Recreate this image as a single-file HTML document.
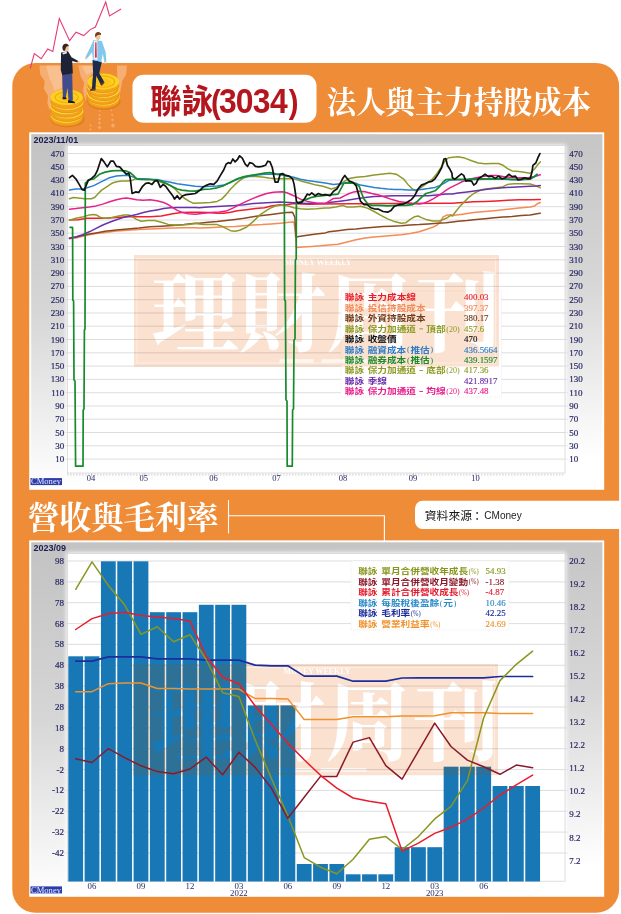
<!DOCTYPE html>
<html><head><meta charset="utf-8"><title>聯詠(3034) 法人與主力持股成本</title>
<style>html,body{margin:0;padding:0;background:#fff}body{width:621px;height:914px;overflow:hidden;font-family:"Liberation Sans",sans-serif}svg{display:block}text{white-space:pre}</style>
</head><body><svg width="621" height="914" viewBox="0 0 621 914"><defs>
<linearGradient id="pg1" gradientUnits="userSpaceOnUse" x1="30" y1="133" x2="50" y2="489"><stop offset="0" stop-color="#c2c2c2"/><stop offset="0.5" stop-color="#d6d6d6"/><stop offset="1" stop-color="#ffffff"/></linearGradient>
<linearGradient id="pg2" gradientUnits="userSpaceOnUse" x1="30" y1="541" x2="50" y2="897"><stop offset="0" stop-color="#c2c2c2"/><stop offset="0.5" stop-color="#d6d6d6"/><stop offset="1" stop-color="#ffffff"/></linearGradient>
<filter id="glow" x="-5%" y="-5%" width="110%" height="110%"><feGaussianBlur stdDeviation="2.2"/></filter>
</defs><rect x="12.3" y="63" width="606.8" height="849.7" rx="23" ry="23" fill="#ef8c37"/><polyline points="30.2,68.5 34.3,53.6 41.2,58.8 47.7,49 52.8,51.5 59.3,18.6 69.6,40.7 76,32.2 83.8,35.6 90.2,29.6 95.4,27 105.7,2 109.5,16 121.1,9" fill="none" stroke="#e83a74" stroke-width="1.1" stroke-linejoin="miter"/><g transform="translate(30 20) scale(0.16103)"><g fill="#f9c79c" opacity="0.6"><path d="M58 282H200V450L140 470 125 565 108 520 112 470 86 425 92 380 64 340Z"/><path d="M300 282H392V330L362 362 356 430 346 505 330 440 336 390 314 350Z"/><path d="M540 282H602L596 340 572 380 562 440 552 505 545 440Z"/></g><g fill="#fde0c0" opacity="0.35"><path d="M100 282H200V420L150 440 140 400 120 360Z"/><path d="M320 282H392V320L350 340Z"/></g><g fill="#fbd2ae" opacity="0.45"><path d="M432 558l7 7 l-7 7 l-7 -7 Z"/><path d="M432 582l8 8 l-8 8 l-8 -8 Z"/><path d="M432 606l9 9 l-9 9 l-9 -9 Z"/><path d="M432 630l10 10 l-10 10 l-10 -10 Z"/><path d="M432 656l12 12 l-12 12 l-12 -12 Z"/><path d="M376 648l7 7 l-7 7 l-7 -7 Z"/><path d="M376 672l8 8 l-8 8 l-8 -8 Z"/><path d="M505 553l7 7 l-7 7 l-7 -7 Z"/><path d="M510 582l8 8 l-8 8 l-8 -8 Z"/><path d="M512 611l9 9 l-9 9 l-9 -9 Z"/><path d="M515 641l14 14 l-14 14 l-14 -14 Z"/></g><ellipse cx="232" cy="616" rx="106" ry="52" fill="#d96f1c" opacity="0.55"/><path d="M128 588v22a100 48 0 0 0 200 0v-22Z" fill="#f2a31a"/><path d="M128 610a100 48 0 0 0 200 0" fill="none" stroke="#e08a12" stroke-width="4"/><ellipse cx="228" cy="588" rx="100" ry="48" fill="#fdd21e"/><path d="M132 590a96 46 0 0 0 192 0" fill="none" stroke="#fde45a" stroke-width="5"/><path d="M131 561v22a100 48 0 0 0 200 0v-22Z" fill="#f2a31a"/><path d="M131 583a100 48 0 0 0 200 0" fill="none" stroke="#e08a12" stroke-width="4"/><ellipse cx="231" cy="561" rx="100" ry="48" fill="#fdd21e"/><path d="M135 563a96 46 0 0 0 192 0" fill="none" stroke="#fde45a" stroke-width="5"/><path d="M125 534v22a100 48 0 0 0 200 0v-22Z" fill="#f2a31a"/><path d="M125 556a100 48 0 0 0 200 0" fill="none" stroke="#e08a12" stroke-width="4"/><ellipse cx="225" cy="534" rx="100" ry="48" fill="#fdd21e"/><path d="M129 536a96 46 0 0 0 192 0" fill="none" stroke="#fde45a" stroke-width="5"/><path d="M132 507v22a100 48 0 0 0 200 0v-22Z" fill="#f2a31a"/><path d="M132 529a100 48 0 0 0 200 0" fill="none" stroke="#e08a12" stroke-width="4"/><ellipse cx="232" cy="507" rx="100" ry="48" fill="#fdd21e"/><path d="M136 509a96 46 0 0 0 192 0" fill="none" stroke="#fde45a" stroke-width="5"/><path d="M128 480v22a100 48 0 0 0 200 0v-22Z" fill="#f2a31a"/><path d="M128 502a100 48 0 0 0 200 0" fill="none" stroke="#e08a12" stroke-width="4"/><ellipse cx="228" cy="480" rx="100" ry="48" fill="#fdd21e"/><ellipse cx="228" cy="480" rx="72" ry="33" fill="none" stroke="#f5b018" stroke-width="9"/><ellipse cx="228" cy="482" rx="52" ry="24" fill="#fbc41c"/><ellipse cx="459" cy="505" rx="104" ry="54" fill="#d96f1c" opacity="0.55"/><path d="M359 479v20a98 50 0 0 0 196 0v-20Z" fill="#f2a31a"/><path d="M359 499a98 50 0 0 0 196 0" fill="none" stroke="#e08a12" stroke-width="4"/><ellipse cx="457" cy="479" rx="98" ry="50" fill="#fdd21e"/><path d="M363 481a94 48 0 0 0 188 0" fill="none" stroke="#fde45a" stroke-width="5"/><path d="M355 455v20a98 50 0 0 0 196 0v-20Z" fill="#f2a31a"/><path d="M355 475a98 50 0 0 0 196 0" fill="none" stroke="#e08a12" stroke-width="4"/><ellipse cx="453" cy="455" rx="98" ry="50" fill="#fdd21e"/><path d="M359 457a94 48 0 0 0 188 0" fill="none" stroke="#fde45a" stroke-width="5"/><path d="M361 431v20a98 50 0 0 0 196 0v-20Z" fill="#f2a31a"/><path d="M361 451a98 50 0 0 0 196 0" fill="none" stroke="#e08a12" stroke-width="4"/><ellipse cx="459" cy="431" rx="98" ry="50" fill="#fdd21e"/><path d="M365 433a94 48 0 0 0 188 0" fill="none" stroke="#fde45a" stroke-width="5"/><path d="M353 407v20a98 50 0 0 0 196 0v-20Z" fill="#f2a31a"/><path d="M353 427a98 50 0 0 0 196 0" fill="none" stroke="#e08a12" stroke-width="4"/><ellipse cx="451" cy="407" rx="98" ry="50" fill="#fdd21e"/><path d="M357 409a94 48 0 0 0 188 0" fill="none" stroke="#fde45a" stroke-width="5"/><path d="M357 383v20a98 50 0 0 0 196 0v-20Z" fill="#f2a31a"/><path d="M357 403a98 50 0 0 0 196 0" fill="none" stroke="#e08a12" stroke-width="4"/><ellipse cx="455" cy="383" rx="98" ry="50" fill="#fdd21e"/><ellipse cx="455" cy="383" rx="70" ry="35" fill="none" stroke="#f5b018" stroke-width="9"/><ellipse cx="455" cy="385" rx="50" ry="25" fill="#fbc41c"/><path d="M200 335L262 332 266 500 240 506 233 420 223 482 204 486Z" fill="#414c8e"/><path d="M203 478l22 4 2 10-24 0Z" fill="#15151c"/><path d="M236 498l34 6 10 8-2 5-42-3Z" fill="#15151c"/><path d="M193 202L236 194 258 232 300 254 296 264 262 254 266 332 200 342 191 310Z" fill="#1d2236"/><path d="M200 203l28-6 2 10-24 8Z" fill="#f2f2f2"/><path d="M296 254l14 4-2 8-14-2Z" fill="#f0c4a4"/><ellipse cx="226" cy="176" rx="15" ry="19" fill="#f0c4a4"/><path d="M202 178c-4-22 10-32 24-30 12 2 16 10 14 16-8-2-16 2-18 10-2 8-4 14-8 18-8-2-11-6-12-14Z" fill="#3a2418"/><path d="M388 248L446 260 430 330 460 384 440 402 412 346 406 432 384 432 392 330Z" fill="#1c2a4c"/><path d="M374 428l32-2 2 10-34 6Z" fill="#6a3a22"/><path d="M436 396l22-14 6 8-20 20Z" fill="#6a3a22"/><path d="M394 124L446 130 470 200 474 258 462 262 452 210 442 262 390 246 386 200 356 238 344 232 380 158Z" fill="#82c8ec"/><path d="M398 128l20 2 0 118-22-4Z" fill="#f6f6f6"/><path d="M405 138l8 0 2 92-6 8-6-8Z" fill="#e0344a"/><path d="M342 230l12 4-4 12-10-4Z" fill="#f0c4a4"/><path d="M462 260l10 0 0 12-8 0Z" fill="#f0c4a4"/><ellipse cx="422" cy="106" rx="15" ry="19" fill="#f0c4a4"/><path d="M404 100c-2-18 12-28 26-24 10 2 14 10 10 18-8-4-18-2-24 2-4 4-6 8-8 12-2-2-4-4-4-8Z" fill="#7a3c1c"/></g><rect x="132.5" y="74.7" width="184" height="48" rx="11" fill="#fff"/><text x="150" y="113.3" font-family="Liberation Sans, Noto Sans CJK TC, sans-serif" font-weight="bold" font-size="33" fill="#b5161e" textLength="63" lengthAdjust="spacingAndGlyphs">聯詠</text><text transform="translate(215.8 112.9) scale(0.885 1)" x="0" y="0" text-anchor="middle" font-family="Liberation Sans, sans-serif" font-weight="bold" font-size="33" fill="#b5161e">(</text><text transform="translate(227.8 112.9) scale(0.885 1)" x="0" y="0" text-anchor="middle" font-family="Liberation Sans, sans-serif" font-weight="bold" font-size="36" fill="#b5161e">3</text><text transform="translate(244.6 112.9) scale(0.885 1)" x="0" y="0" text-anchor="middle" font-family="Liberation Sans, sans-serif" font-weight="bold" font-size="36" fill="#b5161e">0</text><text transform="translate(261.5 112.9) scale(0.885 1)" x="0" y="0" text-anchor="middle" font-family="Liberation Sans, sans-serif" font-weight="bold" font-size="36" fill="#b5161e">3</text><text transform="translate(278.8 112.9) scale(0.885 1)" x="0" y="0" text-anchor="middle" font-family="Liberation Sans, sans-serif" font-weight="bold" font-size="36" fill="#b5161e">4</text><text transform="translate(293.6 112.9) scale(0.885 1)" x="0" y="0" text-anchor="middle" font-family="Liberation Sans, sans-serif" font-weight="bold" font-size="33" fill="#b5161e">)</text><text x="326.8" y="112.5" font-family="Liberation Serif, Noto Serif CJK SC, serif" font-weight="bold" font-size="31" fill="#fff" textLength="264.3" lengthAdjust="spacingAndGlyphs">法人與主力持股成本</text><text x="27.8" y="529" font-family="Liberation Serif, Noto Serif CJK SC, serif" font-weight="bold" font-size="31.8" fill="#fff" textLength="190.8" lengthAdjust="spacingAndGlyphs">營收與毛利率</text><path d="M228.5 500V533.5M228.5 515.7H384.4V541.5" fill="none" stroke="#fff" stroke-width="1.1"/><path d="M422.5 500.7H622V529H422.5a7.5 7.5 0 0 1 -7.5 -7.5V508.2a7.5 7.5 0 0 1 7.5 -7.5Z" fill="#fff"/><text x="424.8" y="519.5" font-family="Liberation Sans, Noto Sans CJK TC, sans-serif" font-size="11.8" fill="#151515" textLength="47.2" lengthAdjust="spacingAndGlyphs">資料來源</text><text x="471.2" y="519.5" font-family="Liberation Sans, Noto Sans CJK TC, sans-serif" font-size="11.8" fill="#151515">：</text><text x="484.3" y="519.3" font-family="Liberation Sans, sans-serif" font-size="11.8" fill="#222" textLength="37.4" lengthAdjust="spacingAndGlyphs">CMoney</text><rect x="29.2" y="132.3" width="575" height="357.5" fill="#fff"/><rect x="31.2" y="134.2" width="571.2" height="353.8" fill="url(#pg1)"/><rect x="66.5" y="144.8" width="499.5" height="329.5" fill="#fff" filter="url(#glow)"/><rect x="67.4" y="145.6" width="497.6" height="327.4" fill="#fff" stroke="#d2d2d2" stroke-width="0.7"/><text x="33.6" y="143" font-family="Liberation Sans, sans-serif" font-weight="bold" font-size="9" fill="#1c1c52">2023/11/01</text><path d="M67.5 459.1H565" stroke="#d4d4d4" stroke-width="0.8"/><path d="M60 459.1H67.5M565 459.1H569" stroke="#d4d4d4" stroke-width="0.7" stroke-dasharray="1 1"/><text x="64.3" y="462.1" font-family="Liberation Serif, serif" font-size="9" fill="#2a2a66" stroke="#2a2a66" stroke-width="0.2" text-anchor="end">10</text><text x="569.3" y="462.1" font-family="Liberation Serif, serif" font-size="9" fill="#2a2a66" stroke="#2a2a66" stroke-width="0.2">10</text><path d="M67.5 445.8H565" stroke="#d4d4d4" stroke-width="0.8"/><path d="M60 445.8H67.5M565 445.8H569" stroke="#d4d4d4" stroke-width="0.7" stroke-dasharray="1 1"/><text x="64.3" y="448.8" font-family="Liberation Serif, serif" font-size="9" fill="#2a2a66" stroke="#2a2a66" stroke-width="0.2" text-anchor="end">30</text><text x="569.3" y="448.8" font-family="Liberation Serif, serif" font-size="9" fill="#2a2a66" stroke="#2a2a66" stroke-width="0.2">30</text><path d="M67.5 432.5H565" stroke="#d4d4d4" stroke-width="0.8"/><path d="M60 432.5H67.5M565 432.5H569" stroke="#d4d4d4" stroke-width="0.7" stroke-dasharray="1 1"/><text x="64.3" y="435.5" font-family="Liberation Serif, serif" font-size="9" fill="#2a2a66" stroke="#2a2a66" stroke-width="0.2" text-anchor="end">50</text><text x="569.3" y="435.5" font-family="Liberation Serif, serif" font-size="9" fill="#2a2a66" stroke="#2a2a66" stroke-width="0.2">50</text><path d="M67.5 419.2H565" stroke="#d4d4d4" stroke-width="0.8"/><path d="M60 419.2H67.5M565 419.2H569" stroke="#d4d4d4" stroke-width="0.7" stroke-dasharray="1 1"/><text x="64.3" y="422.2" font-family="Liberation Serif, serif" font-size="9" fill="#2a2a66" stroke="#2a2a66" stroke-width="0.2" text-anchor="end">70</text><text x="569.3" y="422.2" font-family="Liberation Serif, serif" font-size="9" fill="#2a2a66" stroke="#2a2a66" stroke-width="0.2">70</text><path d="M67.5 406.0H565" stroke="#d4d4d4" stroke-width="0.8"/><path d="M60 406.0H67.5M565 406.0H569" stroke="#d4d4d4" stroke-width="0.7" stroke-dasharray="1 1"/><text x="64.3" y="409.0" font-family="Liberation Serif, serif" font-size="9" fill="#2a2a66" stroke="#2a2a66" stroke-width="0.2" text-anchor="end">90</text><text x="569.3" y="409.0" font-family="Liberation Serif, serif" font-size="9" fill="#2a2a66" stroke="#2a2a66" stroke-width="0.2">90</text><path d="M67.5 392.7H565" stroke="#d4d4d4" stroke-width="0.8"/><path d="M60 392.7H67.5M565 392.7H569" stroke="#d4d4d4" stroke-width="0.7" stroke-dasharray="1 1"/><text x="64.3" y="395.7" font-family="Liberation Serif, serif" font-size="9" fill="#2a2a66" stroke="#2a2a66" stroke-width="0.2" text-anchor="end">110</text><text x="569.3" y="395.7" font-family="Liberation Serif, serif" font-size="9" fill="#2a2a66" stroke="#2a2a66" stroke-width="0.2">110</text><path d="M67.5 379.4H565" stroke="#d4d4d4" stroke-width="0.8"/><path d="M60 379.4H67.5M565 379.4H569" stroke="#d4d4d4" stroke-width="0.7" stroke-dasharray="1 1"/><text x="64.3" y="382.4" font-family="Liberation Serif, serif" font-size="9" fill="#2a2a66" stroke="#2a2a66" stroke-width="0.2" text-anchor="end">130</text><text x="569.3" y="382.4" font-family="Liberation Serif, serif" font-size="9" fill="#2a2a66" stroke="#2a2a66" stroke-width="0.2">130</text><path d="M67.5 366.1H565" stroke="#d4d4d4" stroke-width="0.8"/><path d="M60 366.1H67.5M565 366.1H569" stroke="#d4d4d4" stroke-width="0.7" stroke-dasharray="1 1"/><text x="64.3" y="369.1" font-family="Liberation Serif, serif" font-size="9" fill="#2a2a66" stroke="#2a2a66" stroke-width="0.2" text-anchor="end">150</text><text x="569.3" y="369.1" font-family="Liberation Serif, serif" font-size="9" fill="#2a2a66" stroke="#2a2a66" stroke-width="0.2">150</text><path d="M67.5 352.8H565" stroke="#d4d4d4" stroke-width="0.8"/><path d="M60 352.8H67.5M565 352.8H569" stroke="#d4d4d4" stroke-width="0.7" stroke-dasharray="1 1"/><text x="64.3" y="355.8" font-family="Liberation Serif, serif" font-size="9" fill="#2a2a66" stroke="#2a2a66" stroke-width="0.2" text-anchor="end">170</text><text x="569.3" y="355.8" font-family="Liberation Serif, serif" font-size="9" fill="#2a2a66" stroke="#2a2a66" stroke-width="0.2">170</text><path d="M67.5 339.5H565" stroke="#d4d4d4" stroke-width="0.8"/><path d="M60 339.5H67.5M565 339.5H569" stroke="#d4d4d4" stroke-width="0.7" stroke-dasharray="1 1"/><text x="64.3" y="342.5" font-family="Liberation Serif, serif" font-size="9" fill="#2a2a66" stroke="#2a2a66" stroke-width="0.2" text-anchor="end">190</text><text x="569.3" y="342.5" font-family="Liberation Serif, serif" font-size="9" fill="#2a2a66" stroke="#2a2a66" stroke-width="0.2">190</text><path d="M67.5 326.2H565" stroke="#d4d4d4" stroke-width="0.8"/><path d="M60 326.2H67.5M565 326.2H569" stroke="#d4d4d4" stroke-width="0.7" stroke-dasharray="1 1"/><text x="64.3" y="329.2" font-family="Liberation Serif, serif" font-size="9" fill="#2a2a66" stroke="#2a2a66" stroke-width="0.2" text-anchor="end">210</text><text x="569.3" y="329.2" font-family="Liberation Serif, serif" font-size="9" fill="#2a2a66" stroke="#2a2a66" stroke-width="0.2">210</text><path d="M67.5 313.0H565" stroke="#d4d4d4" stroke-width="0.8"/><path d="M60 313.0H67.5M565 313.0H569" stroke="#d4d4d4" stroke-width="0.7" stroke-dasharray="1 1"/><text x="64.3" y="316.0" font-family="Liberation Serif, serif" font-size="9" fill="#2a2a66" stroke="#2a2a66" stroke-width="0.2" text-anchor="end">230</text><text x="569.3" y="316.0" font-family="Liberation Serif, serif" font-size="9" fill="#2a2a66" stroke="#2a2a66" stroke-width="0.2">230</text><path d="M67.5 299.7H565" stroke="#d4d4d4" stroke-width="0.8"/><path d="M60 299.7H67.5M565 299.7H569" stroke="#d4d4d4" stroke-width="0.7" stroke-dasharray="1 1"/><text x="64.3" y="302.7" font-family="Liberation Serif, serif" font-size="9" fill="#2a2a66" stroke="#2a2a66" stroke-width="0.2" text-anchor="end">250</text><text x="569.3" y="302.7" font-family="Liberation Serif, serif" font-size="9" fill="#2a2a66" stroke="#2a2a66" stroke-width="0.2">250</text><path d="M67.5 286.4H565" stroke="#d4d4d4" stroke-width="0.8"/><path d="M60 286.4H67.5M565 286.4H569" stroke="#d4d4d4" stroke-width="0.7" stroke-dasharray="1 1"/><text x="64.3" y="289.4" font-family="Liberation Serif, serif" font-size="9" fill="#2a2a66" stroke="#2a2a66" stroke-width="0.2" text-anchor="end">270</text><text x="569.3" y="289.4" font-family="Liberation Serif, serif" font-size="9" fill="#2a2a66" stroke="#2a2a66" stroke-width="0.2">270</text><path d="M67.5 273.1H565" stroke="#d4d4d4" stroke-width="0.8"/><path d="M60 273.1H67.5M565 273.1H569" stroke="#d4d4d4" stroke-width="0.7" stroke-dasharray="1 1"/><text x="64.3" y="276.1" font-family="Liberation Serif, serif" font-size="9" fill="#2a2a66" stroke="#2a2a66" stroke-width="0.2" text-anchor="end">290</text><text x="569.3" y="276.1" font-family="Liberation Serif, serif" font-size="9" fill="#2a2a66" stroke="#2a2a66" stroke-width="0.2">290</text><path d="M67.5 259.8H565" stroke="#d4d4d4" stroke-width="0.8"/><path d="M60 259.8H67.5M565 259.8H569" stroke="#d4d4d4" stroke-width="0.7" stroke-dasharray="1 1"/><text x="64.3" y="262.8" font-family="Liberation Serif, serif" font-size="9" fill="#2a2a66" stroke="#2a2a66" stroke-width="0.2" text-anchor="end">310</text><text x="569.3" y="262.8" font-family="Liberation Serif, serif" font-size="9" fill="#2a2a66" stroke="#2a2a66" stroke-width="0.2">310</text><path d="M67.5 246.5H565" stroke="#d4d4d4" stroke-width="0.8"/><path d="M60 246.5H67.5M565 246.5H569" stroke="#d4d4d4" stroke-width="0.7" stroke-dasharray="1 1"/><text x="64.3" y="249.5" font-family="Liberation Serif, serif" font-size="9" fill="#2a2a66" stroke="#2a2a66" stroke-width="0.2" text-anchor="end">330</text><text x="569.3" y="249.5" font-family="Liberation Serif, serif" font-size="9" fill="#2a2a66" stroke="#2a2a66" stroke-width="0.2">330</text><path d="M67.5 233.2H565" stroke="#d4d4d4" stroke-width="0.8"/><path d="M60 233.2H67.5M565 233.2H569" stroke="#d4d4d4" stroke-width="0.7" stroke-dasharray="1 1"/><text x="64.3" y="236.2" font-family="Liberation Serif, serif" font-size="9" fill="#2a2a66" stroke="#2a2a66" stroke-width="0.2" text-anchor="end">350</text><text x="569.3" y="236.2" font-family="Liberation Serif, serif" font-size="9" fill="#2a2a66" stroke="#2a2a66" stroke-width="0.2">350</text><path d="M67.5 220.0H565" stroke="#d4d4d4" stroke-width="0.8"/><path d="M60 220.0H67.5M565 220.0H569" stroke="#d4d4d4" stroke-width="0.7" stroke-dasharray="1 1"/><text x="64.3" y="223.0" font-family="Liberation Serif, serif" font-size="9" fill="#2a2a66" stroke="#2a2a66" stroke-width="0.2" text-anchor="end">370</text><text x="569.3" y="223.0" font-family="Liberation Serif, serif" font-size="9" fill="#2a2a66" stroke="#2a2a66" stroke-width="0.2">370</text><path d="M67.5 206.7H565" stroke="#d4d4d4" stroke-width="0.8"/><path d="M60 206.7H67.5M565 206.7H569" stroke="#d4d4d4" stroke-width="0.7" stroke-dasharray="1 1"/><text x="64.3" y="209.7" font-family="Liberation Serif, serif" font-size="9" fill="#2a2a66" stroke="#2a2a66" stroke-width="0.2" text-anchor="end">390</text><text x="569.3" y="209.7" font-family="Liberation Serif, serif" font-size="9" fill="#2a2a66" stroke="#2a2a66" stroke-width="0.2">390</text><path d="M67.5 193.4H565" stroke="#d4d4d4" stroke-width="0.8"/><path d="M60 193.4H67.5M565 193.4H569" stroke="#d4d4d4" stroke-width="0.7" stroke-dasharray="1 1"/><text x="64.3" y="196.4" font-family="Liberation Serif, serif" font-size="9" fill="#2a2a66" stroke="#2a2a66" stroke-width="0.2" text-anchor="end">410</text><text x="569.3" y="196.4" font-family="Liberation Serif, serif" font-size="9" fill="#2a2a66" stroke="#2a2a66" stroke-width="0.2">410</text><path d="M67.5 180.1H565" stroke="#d4d4d4" stroke-width="0.8"/><path d="M60 180.1H67.5M565 180.1H569" stroke="#d4d4d4" stroke-width="0.7" stroke-dasharray="1 1"/><text x="64.3" y="183.1" font-family="Liberation Serif, serif" font-size="9" fill="#2a2a66" stroke="#2a2a66" stroke-width="0.2" text-anchor="end">430</text><text x="569.3" y="183.1" font-family="Liberation Serif, serif" font-size="9" fill="#2a2a66" stroke="#2a2a66" stroke-width="0.2">430</text><path d="M67.5 166.8H565" stroke="#d4d4d4" stroke-width="0.8"/><path d="M60 166.8H67.5M565 166.8H569" stroke="#d4d4d4" stroke-width="0.7" stroke-dasharray="1 1"/><text x="64.3" y="169.8" font-family="Liberation Serif, serif" font-size="9" fill="#2a2a66" stroke="#2a2a66" stroke-width="0.2" text-anchor="end">450</text><text x="569.3" y="169.8" font-family="Liberation Serif, serif" font-size="9" fill="#2a2a66" stroke="#2a2a66" stroke-width="0.2">450</text><path d="M67.5 153.5H565" stroke="#d4d4d4" stroke-width="0.8"/><path d="M60 153.5H67.5M565 153.5H569" stroke="#d4d4d4" stroke-width="0.7" stroke-dasharray="1 1"/><text x="64.3" y="156.5" font-family="Liberation Serif, serif" font-size="9" fill="#2a2a66" stroke="#2a2a66" stroke-width="0.2" text-anchor="end">470</text><text x="569.3" y="156.5" font-family="Liberation Serif, serif" font-size="9" fill="#2a2a66" stroke="#2a2a66" stroke-width="0.2">470</text><path d="M67.5 474.6H565" stroke="#c8c8c8" stroke-width="2.2" stroke-dasharray="0.8 2.2"/><path d="M91.5 473V476.5" stroke="#bbb" stroke-width="0.8"/><text x="90.9" y="481.2" font-family="Liberation Serif, serif" font-size="8.5" fill="#2a2a66" text-anchor="middle">04</text><path d="M144.3 473V476.5" stroke="#bbb" stroke-width="0.8"/><text x="143.7" y="481.2" font-family="Liberation Serif, serif" font-size="8.5" fill="#2a2a66" text-anchor="middle">05</text><path d="M214.1 473V476.5" stroke="#bbb" stroke-width="0.8"/><text x="213.5" y="481.2" font-family="Liberation Serif, serif" font-size="8.5" fill="#2a2a66" text-anchor="middle">06</text><path d="M277.2 473V476.5" stroke="#bbb" stroke-width="0.8"/><text x="276.6" y="481.2" font-family="Liberation Serif, serif" font-size="8.5" fill="#2a2a66" text-anchor="middle">07</text><path d="M343.6 473V476.5" stroke="#bbb" stroke-width="0.8"/><text x="343.0" y="481.2" font-family="Liberation Serif, serif" font-size="8.5" fill="#2a2a66" text-anchor="middle">08</text><path d="M413.6 473V476.5" stroke="#bbb" stroke-width="0.8"/><text x="413.0" y="481.2" font-family="Liberation Serif, serif" font-size="8.5" fill="#2a2a66" text-anchor="middle">09</text><path d="M476.2 473V476.5" stroke="#bbb" stroke-width="0.8"/><text x="475.6" y="481.2" font-family="Liberation Serif, serif" font-size="8.5" fill="#2a2a66" text-anchor="middle">10</text><rect x="30.5" y="478.1" width="31.5" height="7" fill="#2b3cac"/><text x="31" y="484.4" font-family="Liberation Serif, serif" font-size="7.2" fill="#e8ecff" textLength="30" lengthAdjust="spacingAndGlyphs">CMoney</text><rect x="341" y="291" width="160.5" height="106" fill="#fff" stroke="#e2e2e2" stroke-width="0.6" stroke-dasharray="1 1"/><mask id="wm1" maskUnits="userSpaceOnUse" x="133.5" y="255" width="366" height="112"><rect x="133.5" y="255" width="366" height="112" fill="#fff"/><text x="151.4" y="344.7" font-family="Liberation Serif, Noto Serif CJK SC, serif" font-weight="bold" font-size="86" fill="#000" textLength="349.4" lengthAdjust="spacingAndGlyphs">理財周刊</text><rect x="137.0" y="258.5" width="358.5" height="104.5" fill="none" stroke="#000" stroke-width="0.6" opacity="0.7"/><text x="284.5" y="264.8" font-family="Liberation Serif, serif" font-weight="bold" font-size="7.5" fill="#000" textLength="67" lengthAdjust="spacingAndGlyphs">MONEY WEEKLY</text><rect x="279.5" y="359.2" width="34" height="3.6" fill="#000" opacity="0.7"/><rect x="321.5" y="359.2" width="46" height="3.6" fill="#000" opacity="0.7"/></mask><rect x="133.5" y="255" width="365.5" height="111.5" fill="#fdece2" style="mix-blend-mode:multiply" mask="url(#wm1)"/><rect x="133.5" y="255" width="365.5" height="111.5" fill="#f0853a" opacity="0.1" mask="url(#wm1)"/><polyline points="69.5,238.6 75.8,237.9 82.5,236.3 89.3,234.7 96.1,233.6 105.1,232.5 116.4,231.1 127.6,230.2 138.9,229.5 150.2,228.9 161.4,228.4 172.7,228.0 184.0,227.7 195.3,227.7 199.0,228.0 208.0,227.7 217.1,227.3 226.1,226.8 235.1,226.6 244.1,225.7 253.1,225.0 262.1,224.6 271.2,223.9 280.2,223.2 289.2,222.3 294.1,222.1 295.5,235.2 296.4,247.6 302.7,246.9 311.7,246.4 320.7,245.8 329.0,244.9 338.0,244.2 347.1,241.9 356.1,239.7 365.1,238.1 374.1,237.0 383.1,236.3 392.1,235.6 401.2,234.7 410.2,233.4 419.2,231.8 426.0,229.5 432.7,227.3 437.2,225.0 440.6,221.6 442.9,217.1 446.2,215.3 450.7,214.7 452.4,215.6 462.5,214.2 473.8,212.6 485.1,211.5 496.4,210.4 507.6,209.2 518.9,208.1 530.2,207.0 534.7,205.9 538.1,203.2 540.3,202.5" fill="none" stroke="#f58b55" stroke-width="1.5" stroke-linejoin="round" stroke-linecap="round"/><polyline points="69.5,238.1 75.8,237.0 82.5,235.6 89.3,234.0 96.1,232.9 105.1,231.3 116.4,230.0 127.6,228.9 138.9,228.0 150.2,226.8 161.4,226.2 172.7,225.5 184.0,224.6 195.3,223.2 199.0,223.2 208.0,222.3 217.1,221.6 226.1,220.5 235.1,219.4 244.1,218.3 253.1,216.7 262.1,215.6 271.2,214.4 280.2,213.3 286.9,212.6 292.6,212.2 294.8,217.1 296.0,237.0 300.5,236.3 307.2,235.2 316.2,234.0 325.3,232.9 329.0,231.8 338.0,230.7 347.1,229.5 356.1,228.9 365.1,228.0 374.1,227.3 383.1,226.6 392.1,226.2 401.2,225.7 410.2,225.0 419.2,224.6 428.2,223.9 437.2,223.2 446.2,222.8 452.4,221.9 458.0,221.2 467.1,220.5 476.1,219.4 485.1,218.7 494.1,217.8 503.1,217.1 512.1,216.5 521.2,215.6 530.2,214.9 536.9,213.8 540.3,213.3" fill="none" stroke="#8a4a22" stroke-width="1.5" stroke-linejoin="round" stroke-linecap="round"/><polyline points="69.5,220.1 78.0,219.8 87.1,218.3 96.1,218.3 105.1,218.3 116.4,217.6 127.6,216.7 138.9,216.7 150.2,216.7 161.4,216.0 172.7,213.8 181.7,212.6 190.7,212.2 199.0,212.2 208.0,212.6 217.1,213.3 223.8,213.3 230.6,212.2 237.3,210.8 246.4,209.7 255.4,208.6 264.4,207.7 271.2,205.9 280.2,204.7 286.9,204.7 293.7,203.6 300.5,204.1 309.5,204.3 318.5,204.1 387.6,203.4 450.7,203.2 452.4,203.2 462.5,202.5 473.8,201.8 485.1,201.4 496.4,200.9 507.6,200.2 518.9,199.8 530.2,199.8 540.3,199.6" fill="none" stroke="#f0202e" stroke-width="1.5" stroke-linejoin="round" stroke-linecap="round"/><polyline points="69.5,220.1 75.8,218.3 82.5,217.1 89.3,214.9 93.8,214.4 97.2,215.3 100.6,217.6 105.1,218.3 111.8,217.6 118.6,216.0 124.2,214.9 128.8,214.9 132.1,216.7 136.6,219.4 141.2,221.2 147.9,220.5 154.7,220.5 161.4,222.3 168.2,224.4 175.0,225.0 181.7,225.0 188.5,224.4 195.3,223.4 203.5,224.4 210.3,224.6 217.1,224.6 221.6,226.2 226.1,228.4 230.6,230.7 235.1,231.3 239.6,230.2 246.4,227.3 253.1,221.6 259.9,214.9 266.6,210.4 271.2,207.7 275.7,205.9 282.4,204.7 289.2,206.3 293.7,207.7 300.5,208.8 307.2,209.2 316.2,208.8 325.3,208.1 329.0,208.1 335.8,207.0 342.5,205.4 347.1,207.0 353.8,207.0 360.6,206.3 367.3,208.1 374.1,211.5 380.9,215.3 387.6,218.9 394.4,221.6 401.2,223.2 405.7,222.8 410.2,219.4 414.7,216.7 418.1,216.0 421.4,217.6 426.0,219.4 432.7,221.0 439.5,221.0 446.2,218.3 450.7,215.3 452.4,216.0 455.8,211.5 460.3,205.9 464.8,201.4 469.3,196.8 473.8,193.5 478.3,191.2 482.8,189.4 489.6,188.5 496.4,187.8 503.1,186.7 507.6,184.4 514.4,183.8 521.2,183.8 530.2,184.0 535.8,185.6 540.3,187.8" fill="none" stroke="#8f9a2a" stroke-width="1.5" stroke-linejoin="round" stroke-linecap="round"/><polyline points="69.5,238.6 75.8,237.0 82.5,234.7 89.3,231.8 96.1,228.4 102.8,225.0 109.6,222.3 116.4,219.8 123.1,217.6 129.9,216.0 136.6,214.4 143.4,212.6 150.2,211.1 156.9,209.9 163.7,208.6 170.5,207.7 177.2,207.4 186.2,207.4 195.3,207.4 199.0,207.7 208.0,207.0 217.1,206.5 226.1,205.9 235.1,205.4 244.1,204.7 253.1,203.6 262.1,202.9 271.2,202.5 280.2,202.0 289.2,202.5 298.2,202.9 307.2,203.6 316.2,203.6 325.3,203.2 329.0,202.5 338.0,201.4 347.1,200.2 356.1,198.7 365.1,197.5 374.1,196.4 383.1,196.2 392.1,195.7 401.2,195.7 410.2,195.7 419.2,195.7 428.2,195.7 437.2,195.0 446.2,194.1 452.4,194.1 458.0,193.0 467.1,191.9 476.1,190.8 485.1,189.6 494.1,188.5 503.1,187.8 512.1,187.2 521.2,186.7 530.2,186.3 536.9,186.0 540.3,185.6" fill="none" stroke="#6a32aa" stroke-width="1.5" stroke-linejoin="round" stroke-linecap="round"/><polyline points="69.5,209.2 75.8,208.6 82.5,207.7 89.3,207.0 96.1,205.9 102.8,204.1 109.6,201.8 116.4,199.8 122.0,198.4 126.5,198.0 129.9,198.4 136.6,199.8 143.4,200.2 150.2,199.8 156.9,200.7 163.7,202.5 168.2,204.7 172.7,207.7 177.2,210.4 182.9,212.6 188.5,213.8 195.3,214.2 203.5,213.3 210.3,212.6 219.3,212.0 226.1,211.1 232.8,208.1 239.6,204.7 246.4,201.4 253.1,198.4 259.9,195.7 266.6,193.5 273.4,192.3 282.4,191.7 286.9,192.8 293.7,195.7 300.5,199.1 307.2,201.4 316.2,202.9 325.3,203.6 333.5,198.4 340.3,198.0 344.8,195.7 349.3,193.5 353.8,191.9 358.3,191.2 365.1,191.7 371.8,193.5 378.6,195.0 385.4,197.3 392.1,199.6 398.9,201.4 405.7,202.5 412.4,203.6 419.2,204.1 423.7,203.2 428.2,201.4 432.7,199.1 437.2,196.4 441.7,193.5 446.2,190.1 450.7,187.4 452.4,186.7 458.0,183.8 462.5,181.5 469.3,179.3 476.1,177.7 482.8,176.6 489.6,175.4 496.4,175.4 503.1,176.6 509.9,177.2 518.9,177.7 527.9,177.7 534.7,176.6 540.3,174.8" fill="none" stroke="#e8208c" stroke-width="1.5" stroke-linejoin="round" stroke-linecap="round"/><polyline points="69.5,198.7 73.5,197.5 78.0,198.0 84.8,198.7 91.6,198.7 94.9,197.3 98.3,193.5 101.7,190.1 105.1,187.8 108.5,185.6 111.8,183.3 116.4,181.7 122.0,181.1 127.6,181.1 132.1,180.4 135.5,178.8 138.9,178.8 145.7,179.5 152.4,179.5 156.9,180.6 161.4,182.2 166.0,183.8 170.5,185.6 175.0,189.0 179.5,193.5 184.0,198.0 188.5,200.9 193.0,203.2 201.3,202.9 210.3,202.5 217.1,201.4 221.6,199.1 226.1,194.6 230.6,189.0 235.1,184.4 239.6,180.6 244.1,177.7 248.6,176.6 255.4,176.6 262.1,177.0 268.9,178.1 275.7,178.8 282.4,178.8 289.2,178.4 296.0,179.3 302.7,181.5 309.5,183.3 316.2,185.1 323.0,186.3 331.3,189.0 335.8,187.8 340.3,184.4 344.8,181.1 349.3,178.4 356.1,177.2 365.1,176.6 374.1,175.0 383.1,173.9 389.9,173.2 396.6,174.3 403.4,178.8 407.9,184.4 412.4,189.0 415.8,190.8 419.2,189.0 423.7,185.6 428.2,182.2 432.7,178.8 437.2,173.2 441.7,166.4 445.1,160.8 448.5,157.8 458.0,156.7 464.8,158.1 471.6,160.8 478.3,163.0 485.1,163.7 491.8,163.5 498.6,163.5 503.1,165.3 507.6,168.7 512.1,170.9 518.9,171.6 525.7,172.5 530.2,173.2 534.7,168.7 538.1,164.2 540.3,161.9" fill="none" stroke="#8f9a2a" stroke-width="1.5" stroke-linejoin="round" stroke-linecap="round"/><polyline points="69.5,190.1 75.8,189.0 82.5,189.0 87.1,187.8 93.8,185.6 100.6,182.2 105.1,179.9 109.6,177.7 116.4,176.1 123.1,175.4 127.6,175.4 132.1,176.6 136.6,178.4 143.4,178.8 150.2,179.3 156.9,179.5 163.7,181.1 170.5,182.2 177.2,183.8 186.2,185.1 195.3,186.3 203.5,186.7 210.3,186.3 217.1,186.0 223.8,185.1 230.6,182.2 237.3,179.3 244.1,177.0 250.9,176.1 257.6,175.0 264.4,174.3 271.2,173.9 280.2,174.8 286.9,175.9 293.7,177.2 300.5,179.3 307.2,180.6 316.2,181.7 325.3,182.9 333.5,184.4 340.3,183.8 347.1,182.9 353.8,183.3 360.6,185.1 367.3,186.3 374.1,187.4 380.9,188.3 387.6,189.0 394.4,189.4 401.2,189.6 407.9,190.1 414.7,190.1 421.4,189.4 428.2,188.5 435.0,187.4 439.5,185.6 444.0,183.3 448.5,180.6 453.5,179.7 462.5,179.7 476.1,179.5 485.1,179.3 494.1,179.3 503.1,179.3 512.1,179.7 521.2,179.7 530.2,179.3 535.8,175.4 537.4,174.5" fill="none" stroke="#2a80d2" stroke-width="1.5" stroke-linejoin="round" stroke-linecap="round"/><polyline points="70.1,227.3 72.4,227.3 72.6,228.0 72.8,300.0 73.6,301.0 74.0,380.0 75.0,381.0 75.6,466.2 83.0,466.2 83.2,410.0 84.0,409.0 84.4,330.0 85.0,329.0 85.3,183.0 86.6,182.2 88.2,179.9 93.8,178.8 99.4,174.3 105.1,172.1 111.8,170.9 118.6,170.5 125.4,170.9 129.9,172.5 133.3,175.4 136.6,178.8 141.2,179.3 150.2,179.5 159.2,180.6 166.0,183.3 172.7,186.7 177.2,189.0 181.7,190.1 188.5,190.8 195.3,191.2 203.5,189.4 210.3,189.0 217.1,187.8 223.8,185.6 230.6,182.2 237.3,178.8 244.1,176.6 250.9,175.4 257.6,174.3 264.4,173.2 270.0,172.5 275.7,173.9 282.4,174.3 284.3,174.5 284.6,300.0 285.4,301.0 286.0,400.0 287.0,401.0 287.2,466.2 292.3,466.2 292.6,410.0 293.5,409.0 294.0,340.0 295.0,339.0 295.4,260.0 296.2,259.0 296.4,203.0 298.2,202.5 302.7,200.9 307.2,199.1 311.7,197.3 316.2,196.4 323.0,195.7 329.0,195.0 333.5,194.6 338.0,194.1 341.4,187.8 343.7,183.3 347.1,182.6 351.6,182.9 356.1,183.3 359.4,186.7 361.7,193.5 364.0,199.1 367.3,203.2 371.8,205.4 378.6,205.4 387.6,205.9 396.6,205.4 405.7,205.4 412.4,204.7 416.9,201.8 421.4,197.3 426.0,193.5 430.5,192.3 435.0,190.8 439.5,186.7 442.9,182.2 446.2,179.5 449.6,179.3 453.5,179.5 458.0,179.3 467.1,179.3 476.1,178.8 485.1,178.8 494.1,178.8 503.1,178.8 512.1,179.3 521.2,179.3 530.2,178.8 534.7,176.6 536.9,174.3" fill="none" stroke="#168a2c" stroke-width="1.7" stroke-linejoin="round" stroke-linecap="round"/><polyline points="69.5,177.7 72.4,175.4 75.8,178.8 79.2,184.4 82.1,189.6 84.3,190.1 86.6,184.4 88.2,180.6 91.6,178.4 94.9,175.4 97.2,170.9 99.4,164.2 101.3,158.5 104.0,161.9 107.3,166.9 110.7,161.2 113.4,161.2 116.4,166.4 119.7,166.9 123.1,170.9 126.5,174.3 128.8,173.2 130.3,178.8 132.1,193.5 135.5,191.9 138.9,192.3 142.3,186.7 145.7,183.3 149.0,182.9 152.0,184.4 154.7,181.1 157.4,180.6 160.3,187.4 163.2,184.4 166.0,186.7 169.3,191.2 172.7,195.7 174.5,199.1 177.2,195.7 179.5,199.1 182.9,195.7 186.2,194.6 190.7,194.1 195.3,193.5 200.1,190.1 203.5,186.7 206.9,185.1 210.3,183.8 213.7,184.4 217.1,181.1 220.4,175.4 223.8,169.8 226.1,164.2 228.3,162.6 230.6,163.5 232.8,159.0 235.1,161.9 237.3,159.7 239.6,155.8 242.3,158.1 245.2,164.2 247.5,166.4 249.7,162.6 252.7,163.5 255.4,166.4 258.8,166.9 262.1,166.4 265.5,165.3 267.8,161.2 270.0,161.9 272.3,167.5 273.9,176.6 275.2,182.2 277.9,182.2 280.2,174.3 282.4,173.6 285.8,175.4 289.2,176.1 292.6,178.8 294.1,184.4 295.5,193.5 296.4,201.4 298.2,203.2 301.6,202.5 305.0,198.0 307.2,194.1 309.5,195.0 311.7,192.8 315.1,195.7 318.5,193.5 321.9,195.0 325.3,194.6 330.1,195.7 333.5,191.2 336.9,189.0 340.3,183.3 342.5,178.8 344.8,175.4 347.1,178.4 349.3,181.1 352.7,182.2 356.1,185.6 358.3,193.5 360.6,201.4 364.0,204.7 367.3,204.7 370.7,207.7 374.1,208.8 378.6,209.2 383.1,211.5 387.6,212.2 391.0,210.4 394.4,206.3 398.9,204.7 403.4,204.1 407.9,201.8 411.3,199.6 414.7,195.7 418.1,189.0 421.4,185.1 424.8,183.8 428.2,182.2 431.6,181.5 435.0,178.8 438.3,173.9 441.7,167.5 444.0,159.0 445.8,158.5 447.4,165.3 449.6,168.7 451.9,173.2 452.4,177.7 454.7,179.3 458.0,176.6 461.4,173.9 463.7,175.4 465.9,181.1 468.2,180.6 471.6,181.1 473.8,185.1 476.1,183.3 478.3,178.8 481.7,176.6 485.1,174.3 488.5,176.6 491.8,176.1 495.2,178.4 498.6,176.1 502.0,178.8 505.4,177.7 508.8,174.3 512.1,176.6 515.5,176.1 517.8,179.9 521.2,179.3 524.5,177.7 527.9,178.8 530.2,178.4 532.0,172.1 532.9,165.3 535.8,163.0 538.1,157.4 539.9,153.6" fill="none" stroke="#111" stroke-width="1.7" stroke-linejoin="round" stroke-linecap="round"/><text x="344.8" y="300.4" font-family="Liberation Sans, Noto Sans CJK TC, sans-serif" font-weight="bold" font-size="8.2" fill="#e8202c" textLength="19.3" lengthAdjust="spacingAndGlyphs">聯詠</text><text x="367.7" y="300.4" font-family="Liberation Sans, Noto Sans CJK TC, sans-serif" font-weight="bold" font-size="8.2" fill="#e8202c" textLength="48.3" lengthAdjust="spacingAndGlyphs">主力成本線</text><text x="464.1" y="300.4" font-family="Liberation Serif, serif" font-size="8.9" fill="#e8202c" stroke="#e8202c" stroke-width="0.15">400.03</text><text x="344.8" y="310.83" font-family="Liberation Sans, Noto Sans CJK TC, sans-serif" font-weight="bold" font-size="8.2" fill="#f28a58" textLength="19.3" lengthAdjust="spacingAndGlyphs">聯詠</text><text x="367.7" y="310.83" font-family="Liberation Sans, Noto Sans CJK TC, sans-serif" font-weight="bold" font-size="8.2" fill="#f28a58" textLength="57.9" lengthAdjust="spacingAndGlyphs">投信持股成本</text><text x="464.1" y="310.8" font-family="Liberation Serif, serif" font-size="8.9" fill="#f28a58" stroke="#f28a58" stroke-width="0.15">397.37</text><text x="344.8" y="321.26" font-family="Liberation Sans, Noto Sans CJK TC, sans-serif" font-weight="bold" font-size="8.2" fill="#6e3c1c" textLength="19.3" lengthAdjust="spacingAndGlyphs">聯詠</text><text x="367.7" y="321.26" font-family="Liberation Sans, Noto Sans CJK TC, sans-serif" font-weight="bold" font-size="8.2" fill="#6e3c1c" textLength="57.9" lengthAdjust="spacingAndGlyphs">外資持股成本</text><text x="464.1" y="321.3" font-family="Liberation Serif, serif" font-size="8.9" fill="#6e3c1c" stroke="#6e3c1c" stroke-width="0.15">380.17</text><text x="344.8" y="331.69" font-family="Liberation Sans, Noto Sans CJK TC, sans-serif" font-weight="bold" font-size="8.2" fill="#8c9a22" textLength="19.3" lengthAdjust="spacingAndGlyphs">聯詠</text><text x="367.7" y="331.69" font-family="Liberation Sans, Noto Sans CJK TC, sans-serif" font-weight="bold" font-size="8.2" fill="#8c9a22" textLength="48.3" lengthAdjust="spacingAndGlyphs">保力加通道</text><rect x="419.4" y="328.4" width="3.6" height="0.9" fill="#8c9a22"/><text x="426.36" y="331.69" font-family="Liberation Sans, Noto Sans CJK TC, sans-serif" font-weight="bold" font-size="8.2" fill="#8c9a22" textLength="19.3" lengthAdjust="spacingAndGlyphs">頂部</text><text x="446.3" y="331.5" font-family="Liberation Serif, serif" font-size="8.4" fill="#8c9a22" textLength="13.4" lengthAdjust="spacingAndGlyphs">(20)</text><text x="464.1" y="331.7" font-family="Liberation Serif, serif" font-size="8.9" fill="#8c9a22" stroke="#8c9a22" stroke-width="0.15">457.6</text><text x="344.8" y="342.12" font-family="Liberation Sans, Noto Sans CJK TC, sans-serif" font-weight="bold" font-size="8.2" fill="#111" textLength="19.3" lengthAdjust="spacingAndGlyphs">聯詠</text><text x="367.7" y="342.12" font-family="Liberation Sans, Noto Sans CJK TC, sans-serif" font-weight="bold" font-size="8.2" fill="#111" textLength="29" lengthAdjust="spacingAndGlyphs">收盤價</text><text x="464.1" y="342.1" font-family="Liberation Serif, serif" font-size="8.9" fill="#111" stroke="#111" stroke-width="0.15">470</text><text x="344.8" y="352.55" font-family="Liberation Sans, Noto Sans CJK TC, sans-serif" font-weight="bold" font-size="8.2" fill="#2b7cc8" textLength="19.3" lengthAdjust="spacingAndGlyphs">聯詠</text><text x="367.7" y="352.55" font-family="Liberation Sans, Noto Sans CJK TC, sans-serif" font-weight="bold" font-size="8.2" fill="#2b7cc8" textLength="38.6" lengthAdjust="spacingAndGlyphs">融資成本</text><text x="406.9" y="352.3" font-family="Liberation Serif, serif" font-size="8.4" fill="#2b7cc8" textLength="2.9" lengthAdjust="spacingAndGlyphs">(</text><text x="410.41" y="352.55" font-family="Liberation Sans, Noto Sans CJK TC, sans-serif" font-weight="bold" font-size="8.2" fill="#2b7cc8" textLength="19.3" lengthAdjust="spacingAndGlyphs">推估</text><text x="430.3" y="352.3" font-family="Liberation Serif, serif" font-size="8.4" fill="#2b7cc8" textLength="2.9" lengthAdjust="spacingAndGlyphs">)</text><text x="464.1" y="352.5" font-family="Liberation Serif, serif" font-size="8.9" fill="#2b7cc8" stroke="#2b7cc8" stroke-width="0.15">436.5664</text><text x="344.8" y="362.98" font-family="Liberation Sans, Noto Sans CJK TC, sans-serif" font-weight="bold" font-size="8.2" fill="#1c8a2c" textLength="19.3" lengthAdjust="spacingAndGlyphs">聯詠</text><text x="367.7" y="362.98" font-family="Liberation Sans, Noto Sans CJK TC, sans-serif" font-weight="bold" font-size="8.2" fill="#1c8a2c" textLength="38.6" lengthAdjust="spacingAndGlyphs">融券成本</text><text x="406.9" y="362.8" font-family="Liberation Serif, serif" font-size="8.4" fill="#1c8a2c" textLength="2.9" lengthAdjust="spacingAndGlyphs">(</text><text x="410.41" y="362.98" font-family="Liberation Sans, Noto Sans CJK TC, sans-serif" font-weight="bold" font-size="8.2" fill="#1c8a2c" textLength="19.3" lengthAdjust="spacingAndGlyphs">推估</text><text x="430.3" y="362.8" font-family="Liberation Serif, serif" font-size="8.4" fill="#1c8a2c" textLength="2.9" lengthAdjust="spacingAndGlyphs">)</text><text x="464.1" y="363.0" font-family="Liberation Serif, serif" font-size="8.9" fill="#1c8a2c" stroke="#1c8a2c" stroke-width="0.15">439.1597</text><text x="344.8" y="373.41" font-family="Liberation Sans, Noto Sans CJK TC, sans-serif" font-weight="bold" font-size="8.2" fill="#8c9a22" textLength="19.3" lengthAdjust="spacingAndGlyphs">聯詠</text><text x="367.7" y="373.41" font-family="Liberation Sans, Noto Sans CJK TC, sans-serif" font-weight="bold" font-size="8.2" fill="#8c9a22" textLength="48.3" lengthAdjust="spacingAndGlyphs">保力加通道</text><rect x="419.4" y="370.1" width="3.6" height="0.9" fill="#8c9a22"/><text x="426.36" y="373.41" font-family="Liberation Sans, Noto Sans CJK TC, sans-serif" font-weight="bold" font-size="8.2" fill="#8c9a22" textLength="19.3" lengthAdjust="spacingAndGlyphs">底部</text><text x="446.3" y="373.2" font-family="Liberation Serif, serif" font-size="8.4" fill="#8c9a22" textLength="13.4" lengthAdjust="spacingAndGlyphs">(20)</text><text x="464.1" y="373.4" font-family="Liberation Serif, serif" font-size="8.9" fill="#8c9a22" stroke="#8c9a22" stroke-width="0.15">417.36</text><text x="344.8" y="383.84" font-family="Liberation Sans, Noto Sans CJK TC, sans-serif" font-weight="bold" font-size="8.2" fill="#6a2caa" textLength="19.3" lengthAdjust="spacingAndGlyphs">聯詠</text><text x="367.7" y="383.84" font-family="Liberation Sans, Noto Sans CJK TC, sans-serif" font-weight="bold" font-size="8.2" fill="#6a2caa" textLength="19.3" lengthAdjust="spacingAndGlyphs">季線</text><text x="464.1" y="383.8" font-family="Liberation Serif, serif" font-size="8.9" fill="#6a2caa" stroke="#6a2caa" stroke-width="0.15">421.8917</text><text x="344.8" y="394.27" font-family="Liberation Sans, Noto Sans CJK TC, sans-serif" font-weight="bold" font-size="8.2" fill="#e81c8a" textLength="19.3" lengthAdjust="spacingAndGlyphs">聯詠</text><text x="367.7" y="394.27" font-family="Liberation Sans, Noto Sans CJK TC, sans-serif" font-weight="bold" font-size="8.2" fill="#e81c8a" textLength="48.3" lengthAdjust="spacingAndGlyphs">保力加通道</text><rect x="419.4" y="391.0" width="3.6" height="0.9" fill="#e81c8a"/><text x="426.36" y="394.27" font-family="Liberation Sans, Noto Sans CJK TC, sans-serif" font-weight="bold" font-size="8.2" fill="#e81c8a" textLength="19.3" lengthAdjust="spacingAndGlyphs">均線</text><text x="446.3" y="394.1" font-family="Liberation Serif, serif" font-size="8.4" fill="#e81c8a" textLength="13.4" lengthAdjust="spacingAndGlyphs">(20)</text><text x="464.1" y="394.3" font-family="Liberation Serif, serif" font-size="8.9" fill="#e81c8a" stroke="#e81c8a" stroke-width="0.15">437.48</text><rect x="29.2" y="540.4" width="575" height="356.4" fill="#fff"/><rect x="31.2" y="542.3" width="571.2" height="352.6" fill="url(#pg2)"/><rect x="66.5" y="552.6" width="499.5" height="330" fill="#fff" filter="url(#glow)"/><rect x="67.4" y="553.4" width="497.6" height="327.8" fill="#fff" stroke="#d2d2d2" stroke-width="0.7"/><text x="33.6" y="551" font-family="Liberation Sans, sans-serif" font-weight="bold" font-size="9" fill="#1c1c52">2023/09</text><text x="569.2" y="563.5" font-family="Liberation Serif, serif" font-size="9" fill="#2a2a66" stroke="#2a2a66" stroke-width="0.2">20.2</text><text x="569.2" y="586.6" font-family="Liberation Serif, serif" font-size="9" fill="#2a2a66" stroke="#2a2a66" stroke-width="0.2">19.2</text><text x="569.2" y="609.7" font-family="Liberation Serif, serif" font-size="9" fill="#2a2a66" stroke="#2a2a66" stroke-width="0.2">18.2</text><text x="569.2" y="632.7" font-family="Liberation Serif, serif" font-size="9" fill="#2a2a66" stroke="#2a2a66" stroke-width="0.2">17.2</text><text x="569.2" y="655.8" font-family="Liberation Serif, serif" font-size="9" fill="#2a2a66" stroke="#2a2a66" stroke-width="0.2">16.2</text><text x="569.2" y="678.9" font-family="Liberation Serif, serif" font-size="9" fill="#2a2a66" stroke="#2a2a66" stroke-width="0.2">15.2</text><text x="569.2" y="702.0" font-family="Liberation Serif, serif" font-size="9" fill="#2a2a66" stroke="#2a2a66" stroke-width="0.2">14.2</text><text x="569.2" y="725.1" font-family="Liberation Serif, serif" font-size="9" fill="#2a2a66" stroke="#2a2a66" stroke-width="0.2">13.2</text><text x="569.2" y="748.1" font-family="Liberation Serif, serif" font-size="9" fill="#2a2a66" stroke="#2a2a66" stroke-width="0.2">12.2</text><text x="569.2" y="771.2" font-family="Liberation Serif, serif" font-size="9" fill="#2a2a66" stroke="#2a2a66" stroke-width="0.2">11.2</text><text x="569.2" y="794.3" font-family="Liberation Serif, serif" font-size="9" fill="#2a2a66" stroke="#2a2a66" stroke-width="0.2">10.2</text><text x="569.2" y="817.4" font-family="Liberation Serif, serif" font-size="9" fill="#2a2a66" stroke="#2a2a66" stroke-width="0.2">9.2</text><text x="569.2" y="840.5" font-family="Liberation Serif, serif" font-size="9" fill="#2a2a66" stroke="#2a2a66" stroke-width="0.2">8.2</text><text x="569.2" y="863.5" font-family="Liberation Serif, serif" font-size="9" fill="#2a2a66" stroke="#2a2a66" stroke-width="0.2">7.2</text><path d="M67.5 561.0H565" stroke="#d4d4d4" stroke-width="0.8"/><path d="M60 561.0H67.5M565 561.0H569" stroke="#d4d4d4" stroke-width="0.7" stroke-dasharray="1 1"/><text x="64" y="564.0" font-family="Liberation Serif, serif" font-size="9" fill="#2a2a66" stroke="#2a2a66" stroke-width="0.2" text-anchor="end">98</text><path d="M67.5 581.9H565" stroke="#d4d4d4" stroke-width="0.8"/><path d="M60 581.9H67.5M565 581.9H569" stroke="#d4d4d4" stroke-width="0.7" stroke-dasharray="1 1"/><text x="64" y="584.9" font-family="Liberation Serif, serif" font-size="9" fill="#2a2a66" stroke="#2a2a66" stroke-width="0.2" text-anchor="end">88</text><path d="M67.5 602.7H565" stroke="#d4d4d4" stroke-width="0.8"/><path d="M60 602.7H67.5M565 602.7H569" stroke="#d4d4d4" stroke-width="0.7" stroke-dasharray="1 1"/><text x="64" y="605.7" font-family="Liberation Serif, serif" font-size="9" fill="#2a2a66" stroke="#2a2a66" stroke-width="0.2" text-anchor="end">78</text><path d="M67.5 623.6H565" stroke="#d4d4d4" stroke-width="0.8"/><path d="M60 623.6H67.5M565 623.6H569" stroke="#d4d4d4" stroke-width="0.7" stroke-dasharray="1 1"/><text x="64" y="626.6" font-family="Liberation Serif, serif" font-size="9" fill="#2a2a66" stroke="#2a2a66" stroke-width="0.2" text-anchor="end">68</text><path d="M67.5 644.4H565" stroke="#d4d4d4" stroke-width="0.8"/><path d="M60 644.4H67.5M565 644.4H569" stroke="#d4d4d4" stroke-width="0.7" stroke-dasharray="1 1"/><text x="64" y="647.4" font-family="Liberation Serif, serif" font-size="9" fill="#2a2a66" stroke="#2a2a66" stroke-width="0.2" text-anchor="end">58</text><path d="M67.5 665.3H565" stroke="#d4d4d4" stroke-width="0.8"/><path d="M60 665.3H67.5M565 665.3H569" stroke="#d4d4d4" stroke-width="0.7" stroke-dasharray="1 1"/><text x="64" y="668.3" font-family="Liberation Serif, serif" font-size="9" fill="#2a2a66" stroke="#2a2a66" stroke-width="0.2" text-anchor="end">48</text><path d="M67.5 686.1H565" stroke="#d4d4d4" stroke-width="0.8"/><path d="M60 686.1H67.5M565 686.1H569" stroke="#d4d4d4" stroke-width="0.7" stroke-dasharray="1 1"/><text x="64" y="689.1" font-family="Liberation Serif, serif" font-size="9" fill="#2a2a66" stroke="#2a2a66" stroke-width="0.2" text-anchor="end">38</text><path d="M67.5 707.0H565" stroke="#d4d4d4" stroke-width="0.8"/><path d="M60 707.0H67.5M565 707.0H569" stroke="#d4d4d4" stroke-width="0.7" stroke-dasharray="1 1"/><text x="64" y="710.0" font-family="Liberation Serif, serif" font-size="9" fill="#2a2a66" stroke="#2a2a66" stroke-width="0.2" text-anchor="end">28</text><path d="M67.5 727.9H565" stroke="#d4d4d4" stroke-width="0.8"/><path d="M60 727.9H67.5M565 727.9H569" stroke="#d4d4d4" stroke-width="0.7" stroke-dasharray="1 1"/><text x="64" y="730.9" font-family="Liberation Serif, serif" font-size="9" fill="#2a2a66" stroke="#2a2a66" stroke-width="0.2" text-anchor="end">18</text><path d="M67.5 748.7H565" stroke="#d4d4d4" stroke-width="0.8"/><path d="M60 748.7H67.5M565 748.7H569" stroke="#d4d4d4" stroke-width="0.7" stroke-dasharray="1 1"/><text x="64" y="751.7" font-family="Liberation Serif, serif" font-size="9" fill="#2a2a66" stroke="#2a2a66" stroke-width="0.2" text-anchor="end">8</text><path d="M67.5 769.6H565" stroke="#d4d4d4" stroke-width="0.8"/><path d="M60 769.6H67.5M565 769.6H569" stroke="#d4d4d4" stroke-width="0.7" stroke-dasharray="1 1"/><text x="64" y="772.6" font-family="Liberation Serif, serif" font-size="9" fill="#2a2a66" stroke="#2a2a66" stroke-width="0.2" text-anchor="end">-2</text><path d="M67.5 790.4H565" stroke="#d4d4d4" stroke-width="0.8"/><path d="M60 790.4H67.5M565 790.4H569" stroke="#d4d4d4" stroke-width="0.7" stroke-dasharray="1 1"/><text x="64" y="793.4" font-family="Liberation Serif, serif" font-size="9" fill="#2a2a66" stroke="#2a2a66" stroke-width="0.2" text-anchor="end">-12</text><path d="M67.5 811.3H565" stroke="#d4d4d4" stroke-width="0.8"/><path d="M60 811.3H67.5M565 811.3H569" stroke="#d4d4d4" stroke-width="0.7" stroke-dasharray="1 1"/><text x="64" y="814.3" font-family="Liberation Serif, serif" font-size="9" fill="#2a2a66" stroke="#2a2a66" stroke-width="0.2" text-anchor="end">-22</text><path d="M67.5 832.1H565" stroke="#d4d4d4" stroke-width="0.8"/><path d="M60 832.1H67.5M565 832.1H569" stroke="#d4d4d4" stroke-width="0.7" stroke-dasharray="1 1"/><text x="64" y="835.1" font-family="Liberation Serif, serif" font-size="9" fill="#2a2a66" stroke="#2a2a66" stroke-width="0.2" text-anchor="end">-32</text><path d="M67.5 853.0H565" stroke="#d4d4d4" stroke-width="0.8"/><path d="M60 853.0H67.5M565 853.0H569" stroke="#d4d4d4" stroke-width="0.7" stroke-dasharray="1 1"/><text x="64" y="856.0" font-family="Liberation Serif, serif" font-size="9" fill="#2a2a66" stroke="#2a2a66" stroke-width="0.2" text-anchor="end">-42</text><g fill="#1878b6"><rect x="68.30" y="656.3" width="14.8" height="225.2"/><rect x="84.62" y="656.3" width="14.8" height="225.2"/><rect x="100.94" y="561.3" width="14.8" height="320.2"/><rect x="117.26" y="561.3" width="14.8" height="320.2"/><rect x="133.58" y="561.3" width="14.8" height="320.2"/><rect x="149.90" y="612.2" width="14.8" height="269.3"/><rect x="166.22" y="612.2" width="14.8" height="269.3"/><rect x="182.54" y="612.2" width="14.8" height="269.3"/><rect x="198.86" y="604.8" width="14.8" height="276.7"/><rect x="215.18" y="604.8" width="14.8" height="276.7"/><rect x="231.50" y="604.8" width="14.8" height="276.7"/><rect x="247.82" y="705.4" width="14.8" height="176.1"/><rect x="264.14" y="705.4" width="14.8" height="176.1"/><rect x="280.46" y="705.4" width="14.8" height="176.1"/><rect x="296.78" y="864.0" width="14.8" height="17.5"/><rect x="313.10" y="864.0" width="14.8" height="17.5"/><rect x="329.42" y="864.0" width="14.8" height="17.5"/><rect x="345.74" y="874.3" width="14.8" height="7.2"/><rect x="362.06" y="874.3" width="14.8" height="7.2"/><rect x="378.38" y="874.3" width="14.8" height="7.2"/><rect x="394.70" y="847.2" width="14.8" height="34.3"/><rect x="411.02" y="847.2" width="14.8" height="34.3"/><rect x="427.34" y="847.2" width="14.8" height="34.3"/><rect x="443.66" y="766.7" width="14.8" height="114.8"/><rect x="459.98" y="766.7" width="14.8" height="114.8"/><rect x="476.30" y="766.7" width="14.8" height="114.8"/><rect x="492.62" y="786.0" width="14.8" height="95.5"/><rect x="508.94" y="786.0" width="14.8" height="95.5"/><rect x="525.26" y="786.0" width="14.8" height="95.5"/></g><path d="M92.0 881.5V883.5" stroke="#bbb" stroke-width="0.7"/><text x="92.0" y="888.9" font-family="Liberation Serif, serif" font-size="8.8" fill="#2a2a66" text-anchor="middle">06</text><path d="M141.0 881.5V883.5" stroke="#bbb" stroke-width="0.7"/><text x="141.0" y="888.9" font-family="Liberation Serif, serif" font-size="8.8" fill="#2a2a66" text-anchor="middle">09</text><path d="M189.9 881.5V883.5" stroke="#bbb" stroke-width="0.7"/><text x="189.9" y="888.9" font-family="Liberation Serif, serif" font-size="8.8" fill="#2a2a66" text-anchor="middle">12</text><path d="M238.9 881.5V883.5" stroke="#bbb" stroke-width="0.7"/><text x="238.9" y="888.9" font-family="Liberation Serif, serif" font-size="8.8" fill="#2a2a66" text-anchor="middle">03</text><path d="M287.8 881.5V883.5" stroke="#bbb" stroke-width="0.7"/><text x="287.8" y="888.9" font-family="Liberation Serif, serif" font-size="8.8" fill="#2a2a66" text-anchor="middle">06</text><path d="M336.8 881.5V883.5" stroke="#bbb" stroke-width="0.7"/><text x="336.8" y="888.9" font-family="Liberation Serif, serif" font-size="8.8" fill="#2a2a66" text-anchor="middle">09</text><path d="M385.8 881.5V883.5" stroke="#bbb" stroke-width="0.7"/><text x="385.8" y="888.9" font-family="Liberation Serif, serif" font-size="8.8" fill="#2a2a66" text-anchor="middle">12</text><path d="M434.7 881.5V883.5" stroke="#bbb" stroke-width="0.7"/><text x="434.7" y="888.9" font-family="Liberation Serif, serif" font-size="8.8" fill="#2a2a66" text-anchor="middle">03</text><path d="M483.7 881.5V883.5" stroke="#bbb" stroke-width="0.7"/><text x="483.7" y="888.9" font-family="Liberation Serif, serif" font-size="8.8" fill="#2a2a66" text-anchor="middle">06</text><text x="238.9" y="896.4" font-family="Liberation Serif, serif" font-size="8.8" fill="#2a2a66" text-anchor="middle">2022</text><text x="434.7" y="896.4" font-family="Liberation Serif, serif" font-size="8.8" fill="#2a2a66" text-anchor="middle">2023</text><rect x="30.5" y="886.4" width="31.5" height="7" fill="#2b3cac"/><text x="31" y="892.6" font-family="Liberation Serif, serif" font-size="7.2" fill="#e8ecff" textLength="30" lengthAdjust="spacingAndGlyphs">CMoney</text><rect x="351" y="561" width="158" height="69" fill="#fff" stroke="#e2e2e2" stroke-width="0.6" stroke-dasharray="1 1"/><mask id="wm2" maskUnits="userSpaceOnUse" x="132.5" y="663.8" width="366" height="112"><rect x="132.5" y="663.8" width="366" height="112" fill="#fff"/><text x="150.4" y="753.5" font-family="Liberation Serif, Noto Serif CJK SC, serif" font-weight="bold" font-size="86" fill="#000" textLength="349.4" lengthAdjust="spacingAndGlyphs">理財周刊</text><rect x="136.0" y="667.3" width="358.5" height="104.5" fill="none" stroke="#000" stroke-width="0.6" opacity="0.7"/><text x="283.5" y="673.5999999999999" font-family="Liberation Serif, serif" font-weight="bold" font-size="7.5" fill="#000" textLength="67" lengthAdjust="spacingAndGlyphs">MONEY WEEKLY</text><rect x="278.5" y="768.0" width="34" height="3.6" fill="#000" opacity="0.7"/><rect x="320.5" y="768.0" width="46" height="3.6" fill="#000" opacity="0.7"/></mask><rect x="132.5" y="663.8" width="365.5" height="111.5" fill="#fdece2" style="mix-blend-mode:multiply" mask="url(#wm2)"/><rect x="132.5" y="663.8" width="365.5" height="111.5" fill="#f0853a" opacity="0.1" mask="url(#wm2)"/><polyline points="75.7,691.7 92.0,691.7 108.3,683.7 124.6,683.0 141.0,683.0 157.3,688.5 173.6,688.5 189.9,689.1 206.2,689.1 222.6,689.1 238.9,689.1 255.2,698.6 271.5,698.6 287.8,698.9 304.2,719.5 320.5,719.5 336.8,719.5 353.1,716.7 369.4,716.7 385.8,716.7 402.1,716.0 418.4,716.1 434.7,715.8 451.0,712.7 467.4,712.7 483.7,712.7 500.0,713.4 516.3,713.4 532.6,713.4" fill="none" stroke="#f0922c" stroke-width="1.5" stroke-linejoin="round" stroke-linecap="round"/><polyline points="75.7,661.1 92.0,661.1 108.3,656.9 124.6,656.9 141.0,656.9 157.3,658.9 173.6,658.9 189.9,658.9 206.2,660.1 222.6,660.1 238.9,660.1 255.2,665.1 271.5,665.8 287.8,665.8 304.2,676.1 320.5,676.1 336.8,676.1 353.1,681.2 369.4,681.2 385.8,681.2 402.1,678.0 418.4,677.9 434.7,677.9 451.0,677.9 467.4,677.9 483.7,677.9 500.0,676.5 516.3,676.5 532.6,676.5" fill="none" stroke="#1c2e9c" stroke-width="1.7" stroke-linejoin="round" stroke-linecap="round"/><polyline points="75.7,589.3 92.0,561.9 108.3,585.4 124.6,604.8 141.0,634.4 157.3,626.7 173.6,641.8 189.9,634.7 206.2,659.5 222.6,692.7 238.9,696.4 255.2,740.0 271.5,778.6 287.8,815.7 304.2,857.6 320.5,867.2 336.8,873.7 353.1,859.2 369.4,839.2 385.8,836.6 402.1,849.5 418.4,836.6 434.7,818.9 451.0,806.4 467.4,780.6 483.7,717.8 500.0,680.6 516.3,664.3 532.6,651.2" fill="none" stroke="#8a961e" stroke-width="1.5" stroke-linejoin="round" stroke-linecap="round"/><polyline points="75.7,758.7 92.0,762.5 108.3,748.7 124.6,757.7 141.0,765.8 157.3,771.6 173.6,773.8 189.9,769.0 206.2,757.1 222.6,774.8 238.9,752.2 255.2,767.4 271.5,788.3 287.8,818.3 304.2,797.3 320.5,776.4 336.8,776.4 353.1,742.1 369.4,737.6 385.8,765.6 402.1,779.1 418.4,751.1 434.7,723.1 451.0,746.5 467.4,760.1 483.7,766.8 500.0,774.3 516.3,765.1 532.6,767.8" fill="none" stroke="#8a1a2a" stroke-width="1.5" stroke-linejoin="round" stroke-linecap="round"/><polyline points="75.7,629.5 92.0,618.6 108.3,613.8 124.6,612.2 141.0,615.4 157.3,617.0 173.6,618.6 189.9,620.9 206.2,656.3 222.6,677.2 238.9,683.7 255.2,706.0 271.5,724.4 287.8,743.1 304.2,759.8 320.5,775.3 336.8,788.1 353.1,798.0 369.4,801.2 385.8,803.8 402.1,851.1 418.4,843.1 434.7,833.4 451.0,827.3 467.4,819.2 483.7,808.0 500.0,795.1 516.3,784.8 532.6,775.1" fill="none" stroke="#ea1c2c" stroke-width="1.5" stroke-linejoin="round" stroke-linecap="round"/><text x="358.2" y="574.1" font-family="Liberation Sans, Noto Sans CJK TC, sans-serif" font-weight="bold" font-size="8.2" fill="#8a961e" textLength="19.3" lengthAdjust="spacingAndGlyphs">聯詠</text><text x="381.3" y="574.1" font-family="Liberation Sans, Noto Sans CJK TC, sans-serif" font-weight="bold" font-size="8.2" fill="#8a961e" textLength="86.9" lengthAdjust="spacingAndGlyphs">單月合併營收年成長</text><text x="468.8" y="573.9" font-family="Liberation Serif, serif" font-size="8.4" fill="#8a961e" textLength="9.9" lengthAdjust="spacingAndGlyphs">(%)</text><text x="485.6" y="574.1" font-family="Liberation Serif, serif" font-size="8.9" fill="#8a961e" stroke="#8a961e" stroke-width="0.15">54.93</text><text x="358.2" y="584.62" font-family="Liberation Sans, Noto Sans CJK TC, sans-serif" font-weight="bold" font-size="8.2" fill="#8a1a2a" textLength="19.3" lengthAdjust="spacingAndGlyphs">聯詠</text><text x="381.3" y="584.62" font-family="Liberation Sans, Noto Sans CJK TC, sans-serif" font-weight="bold" font-size="8.2" fill="#8a1a2a" textLength="86.9" lengthAdjust="spacingAndGlyphs">單月合併營收月變動</text><text x="468.8" y="584.4" font-family="Liberation Serif, serif" font-size="8.4" fill="#8a1a2a" textLength="9.9" lengthAdjust="spacingAndGlyphs">(%)</text><text x="485.6" y="584.6" font-family="Liberation Serif, serif" font-size="8.9" fill="#8a1a2a" stroke="#8a1a2a" stroke-width="0.15">-1.38</text><text x="358.2" y="595.14" font-family="Liberation Sans, Noto Sans CJK TC, sans-serif" font-weight="bold" font-size="8.2" fill="#e21c2c" textLength="19.3" lengthAdjust="spacingAndGlyphs">聯詠</text><text x="381.3" y="595.14" font-family="Liberation Sans, Noto Sans CJK TC, sans-serif" font-weight="bold" font-size="8.2" fill="#e21c2c" textLength="77.2" lengthAdjust="spacingAndGlyphs">累計合併營收成長</text><text x="459.1" y="594.9" font-family="Liberation Serif, serif" font-size="8.4" fill="#e21c2c" textLength="9.9" lengthAdjust="spacingAndGlyphs">(%)</text><text x="485.6" y="595.1" font-family="Liberation Serif, serif" font-size="8.9" fill="#e21c2c" stroke="#e21c2c" stroke-width="0.15">-4.87</text><text x="358.2" y="605.66" font-family="Liberation Sans, Noto Sans CJK TC, sans-serif" font-weight="bold" font-size="8.2" fill="#2a8aca" textLength="19.3" lengthAdjust="spacingAndGlyphs">聯詠</text><text x="381.3" y="605.66" font-family="Liberation Sans, Noto Sans CJK TC, sans-serif" font-weight="bold" font-size="8.2" fill="#2a8aca" textLength="57.9" lengthAdjust="spacingAndGlyphs">每股稅後盈餘</text><text x="439.8" y="605.5" font-family="Liberation Serif, serif" font-size="8.4" fill="#2a8aca" textLength="2.9" lengthAdjust="spacingAndGlyphs">(</text><text x="443.31" y="605.66" font-family="Liberation Sans, Noto Sans CJK TC, sans-serif" font-weight="bold" font-size="8.2" fill="#2a8aca" textLength="9.7" lengthAdjust="spacingAndGlyphs">元</text><text x="453.6" y="605.5" font-family="Liberation Serif, serif" font-size="8.4" fill="#2a8aca" textLength="2.9" lengthAdjust="spacingAndGlyphs">)</text><text x="485.6" y="605.7" font-family="Liberation Serif, serif" font-size="8.9" fill="#2a8aca" stroke="#2a8aca" stroke-width="0.15">10.46</text><text x="358.2" y="616.18" font-family="Liberation Sans, Noto Sans CJK TC, sans-serif" font-weight="bold" font-size="8.2" fill="#1c2e9c" textLength="19.3" lengthAdjust="spacingAndGlyphs">聯詠</text><text x="381.3" y="616.18" font-family="Liberation Sans, Noto Sans CJK TC, sans-serif" font-weight="bold" font-size="8.2" fill="#1c2e9c" textLength="29" lengthAdjust="spacingAndGlyphs">毛利率</text><text x="410.9" y="616.0" font-family="Liberation Serif, serif" font-size="8.4" fill="#1c2e9c" textLength="9.9" lengthAdjust="spacingAndGlyphs">(%)</text><text x="485.6" y="616.2" font-family="Liberation Serif, serif" font-size="8.9" fill="#1c2e9c" stroke="#1c2e9c" stroke-width="0.15">42.25</text><text x="358.2" y="626.7" font-family="Liberation Sans, Noto Sans CJK TC, sans-serif" font-weight="bold" font-size="8.2" fill="#f0922c" textLength="19.3" lengthAdjust="spacingAndGlyphs">聯詠</text><text x="381.3" y="626.7" font-family="Liberation Sans, Noto Sans CJK TC, sans-serif" font-weight="bold" font-size="8.2" fill="#f0922c" textLength="48.3" lengthAdjust="spacingAndGlyphs">營業利益率</text><text x="430.2" y="626.5" font-family="Liberation Serif, serif" font-size="8.4" fill="#f0922c" textLength="9.9" lengthAdjust="spacingAndGlyphs">(%)</text><text x="485.6" y="626.7" font-family="Liberation Serif, serif" font-size="8.9" fill="#f0922c" stroke="#f0922c" stroke-width="0.15">24.69</text></svg></body></html>
